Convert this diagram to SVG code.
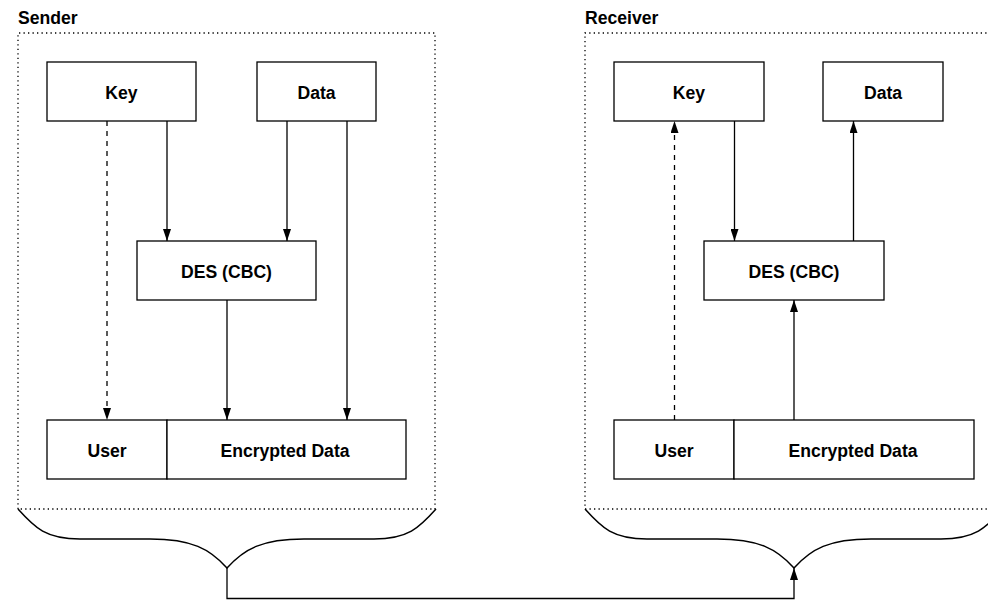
<svg xmlns="http://www.w3.org/2000/svg" width="988" height="600" viewBox="0 0 988 600">
  <style>
    .box { fill: #fff; stroke: #000; stroke-width: 1.3; }
    .lbl { font-family: "Liberation Sans", Arial, sans-serif; font-weight: bold; font-size: 17.6px; fill: #000; text-anchor: middle; }
    .title { font-family: "Liberation Sans", Arial, sans-serif; font-weight: bold; font-size: 17.6px; fill: #000; }
    .frame { fill: none; stroke: #000; stroke-width: 1.3; stroke-dasharray: 1.3 3.2; }
    .wire { fill: none; stroke: #000; stroke-width: 1.3; }
    .dash { stroke-dasharray: 5 5; }
    .brace { fill: none; stroke: #000; stroke-width: 1.5; }
  </style>
  <defs>
    <marker id="head" viewBox="0 0 12 8" refX="12" refY="4" markerWidth="12" markerHeight="8" markerUnits="userSpaceOnUse" orient="auto">
      <path d="M0,0 L12,4 L0,8 z" fill="#000"/>
    </marker>
  </defs>
  <rect width="988" height="600" fill="#fff"/>

  <!-- Sender side -->
  <g id="sender">
    <text class="title" x="18" y="24">Sender</text>
    <path class="frame" d="M18,509 L18,33 L435,33 L435,509 L18,509"/>
  </g>
  <g id="s-key">
    <rect class="box" x="47" y="62" width="149" height="59"/>
    <text class="lbl" x="121.5" y="98.5">Key</text>
  </g>
  <g id="s-data">
    <rect class="box" x="257" y="62" width="119" height="59"/>
    <text class="lbl" x="316.5" y="98.5">Data</text>
  </g>
  <g id="s-des">
    <rect class="box" x="137" y="241" width="179" height="59"/>
    <text class="lbl" x="226.5" y="277.5">DES (CBC)</text>
  </g>
  <g id="s-user">
    <rect class="box" x="47" y="420" width="120" height="59"/>
    <text class="lbl" x="107" y="456.5">User</text>
  </g>
  <g id="s-enc">
    <rect class="box" x="167" y="420" width="239" height="59"/>
    <text class="lbl" x="285" y="456.5">Encrypted Data</text>
  </g>

  <!-- Receiver side -->
  <g id="receiver">
    <text class="title" x="585" y="24">Receiver</text>
    <path class="frame" d="M1000,33 L585,33 L585,509 L1000,509"/>
  </g>
  <g id="r-key">
    <rect class="box" x="614" y="62" width="150" height="59"/>
    <text class="lbl" x="689" y="98.5">Key</text>
  </g>
  <g id="r-data">
    <rect class="box" x="823" y="62" width="120" height="59"/>
    <text class="lbl" x="883" y="98.5">Data</text>
  </g>
  <g id="r-des">
    <rect class="box" x="704" y="241" width="180" height="59"/>
    <text class="lbl" x="794" y="277.5">DES (CBC)</text>
  </g>
  <g id="r-user">
    <rect class="box" x="614" y="420" width="120" height="59"/>
    <text class="lbl" x="674" y="456.5">User</text>
  </g>
  <g id="r-enc">
    <rect class="box" x="734" y="420" width="240" height="59"/>
    <text class="lbl" x="853" y="456.5">Encrypted Data</text>
  </g>

  <!-- Connectors -->
  <g id="connectors">
    <!-- sender -->
    <line class="wire dash" x1="107" y1="121" x2="107" y2="420" marker-end="url(#head)"/>
    <line class="wire" x1="167" y1="121" x2="167" y2="241" marker-end="url(#head)"/>
    <line class="wire" x1="287" y1="121" x2="287" y2="241" marker-end="url(#head)"/>
    <line class="wire" x1="227" y1="300" x2="227" y2="420" marker-end="url(#head)"/>
    <line class="wire" x1="347" y1="121" x2="347" y2="420" marker-end="url(#head)"/>
    <!-- receiver -->
    <line class="wire dash" x1="674.5" y1="420" x2="674.5" y2="121" marker-end="url(#head)"/>
    <line class="wire" x1="734.5" y1="121" x2="734.5" y2="241" marker-end="url(#head)"/>
    <line class="wire" x1="853.5" y1="241" x2="853.5" y2="121" marker-end="url(#head)"/>
    <line class="wire" x1="794" y1="420" x2="794" y2="300" marker-end="url(#head)"/>
    <!-- braces -->
    <path class="brace" d="M18,509 C35,528 46,539 80,539 L150,539 C192,539 210,549 227,568 C244,549 262,539 304,539 L374,539 C408,539 419,528 436,509"/>
    <path class="brace" d="M585,509 C602,528 613,539 647,539 L717,539 C759,539 777,549 794,568 C811,549 829,539 871,539 L941,539 C975,539 986,528 1003,509"/>
    <polyline class="wire" points="227,568 227,598.5 794,598.5 794,568" marker-end="url(#head)"/>
  </g>
</svg>
